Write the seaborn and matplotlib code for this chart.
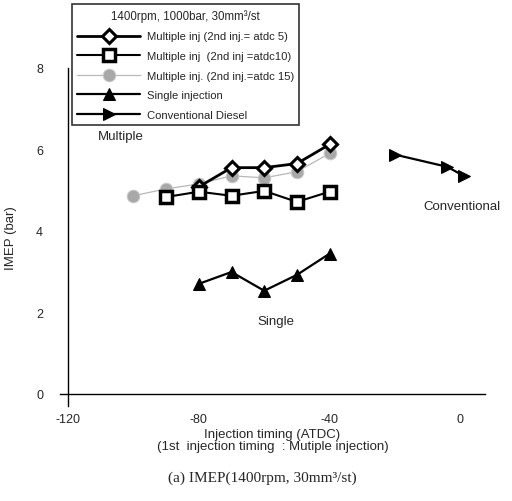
import numpy as np
import pandas as pd
import matplotlib
matplotlib.use("Agg")
import matplotlib.pyplot as plt
import seaborn as sns

# valores
x_atdc5 = [-80, -70, -60, -50, -40]
y_atdc5 = [5.08, 5.55, 5.55, 5.65, 6.12]

x_atdc10 = [-90, -80, -70, -60, -50, -40]
y_atdc10 = [4.83, 4.96, 4.86, 4.98, 4.71, 4.96]

x_atdc15 = [-100, -90, -80, -70, -60, -50, -40]
y_atdc15 = [4.86, 5.03, 5.15, 5.35, 5.3, 5.45, 5.9]

x_single = [-80, -70, -60, -50, -40]
y_single = [2.70, 2.99, 2.53, 2.92, 3.44]

x_conv = [-20, -4, 1]
y_conv = [5.87, 5.57, 5.35]

labels = ["Multiple inj (2nd inj.= atdc 5)",
          "Multiple inj  (2nd inj =atdc10)",
          "Multiple inj. (2nd inj.=atdc 15)",
          "Single injection",
          "Conventional Diesel"]

sns.set_style("white")
plt.rcParams['font.family'] = ['Liberation Sans', 'DejaVu Sans']

fig = plt.figure(figsize=(5.12, 5.02), dpi=100)
ax = fig.add_axes([0.117, 0.189, 0.830, 0.674])

sns.lineplot(x=x_atdc15, y=y_atdc15, ax=ax, color="#b8b8b8", lw=0.9,
             marker="o", markersize=9, markerfacecolor="#a8a8a8",
             markeredgecolor="#c8c8c8", label=labels[2], zorder=2)
sns.lineplot(x=x_atdc5, y=y_atdc5, ax=ax, color="black", lw=2.0,
             marker="D", markersize=7, markerfacecolor="white",
             markeredgecolor="black", markeredgewidth=2.2, label=labels[0], zorder=3)
sns.lineplot(x=x_atdc10, y=y_atdc10, ax=ax, color="black", lw=1.5,
             marker="s", markersize=8, markerfacecolor="white",
             markeredgecolor="black", markeredgewidth=2.5, label=labels[1], zorder=3)
sns.lineplot(x=x_single, y=y_single, ax=ax, color="black", lw=1.6,
             marker="^", markersize=8, markerfacecolor="black",
             markeredgecolor="black", label=labels[3], zorder=3)
sns.lineplot(x=x_conv, y=y_conv, ax=ax, color="black", lw=1.6,
             marker=">", markersize=8, markerfacecolor="black",
             markeredgecolor="black", label=labels[4], zorder=3)

ax.set_xlim(-122.5, 7.5)
ax.set_ylim(-0.3, 8.0)
ax.set_xticks([-120, -80, -40, 0])
ax.set_xticklabels(["-120", "-80", "-40", "0"])
ax.set_yticks([0, 2, 4, 6, 8])
ax.set_yticks([1, 3, 5, 7], minor=True)

for s in ["top", "right"]:
    ax.spines[s].set_visible(False)
ax.spines["left"].set_position(("data", -120))
ax.spines["bottom"].set_position(("data", 0))
ax.spines["left"].set_bounds(-0.3, 8.0)
for s in ["left", "bottom"]:
    ax.spines[s].set_linewidth(1.0)
    ax.spines[s].set_color("black")

ax.tick_params(axis="x", length=0, labelsize=9, pad=14)
ax.tick_params(axis="y", which="major", direction="inout", length=8, labelsize=9, pad=14)
ax.tick_params(axis="y", which="minor", direction="in", length=3)

ax.set_ylabel("IMEP (bar)", fontsize=9.5, labelpad=14)
ax.set_xlabel("Injection timing (ATDC)\n(1st  injection timing  : Mutiple injection)",
              fontsize=9.5, linespacing=0.95, labelpad=2)

ax.text(-104, 6.33, "Multiple", fontsize=9.5, ha="center", va="center")
ax.text(-56.5, 1.8, "Single", fontsize=9.5, ha="center", va="center")
ax.text(0.5, 4.6, "Conventional", fontsize=9.5, ha="center", va="center", clip_on=False)

# orden de la leyenda como en el original
handles, labs = ax.get_legend_handles_labels()
order = [labs.index(l) for l in labels]
leg = ax.legend([handles[i] for i in order], [labs[i] for i in order],
                loc="upper left", bbox_to_anchor=(0.141, 0.990),
                bbox_transform=fig.transFigure, title="1400rpm, 1000bar, 30mm³/st",
                fontsize=8.1, title_fontsize=8.3, handlelength=5.6,
                frameon=True, fancybox=False, edgecolor="black",
                borderpad=0.45, labelspacing=0.85, handletextpad=0.6,
                borderaxespad=0)
leg.get_frame().set_linewidth(1.2)

fig.text(0.512, 0.048, "(a) IMEP(1400rpm, 30mm³/st)", ha="center", va="center",
         fontsize=11, family=["Liberation Serif", "DejaVu Serif"])

fig.savefig("out.png", dpi=100)
